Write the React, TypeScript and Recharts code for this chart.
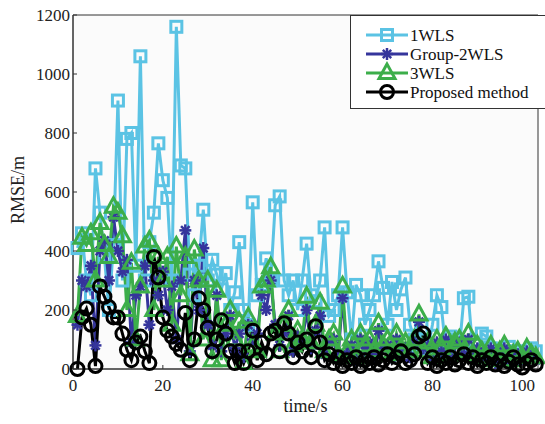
import React from 'react';
import { LineChart, Line, XAxis, YAxis, ReferenceArea, CartesianGrid } from 'recharts';

const wls1 = [
  410, 460, 300, 250, 680, 530, 380, 200, 420, 910,
  300, 780, 800, 350, 1060, 300, 430, 530, 765, 640,
  580, 300, 1160, 690, 680, 320, 250, 350, 540, 300,
  370, 320, 270, 325, 200, 260, 430, 200, 150, 565,
  250, 285, 375, 300, 555, 585, 300, 250, 300, 200,
  300, 425, 250, 230, 300, 480, 180, 200, 250, 480,
  260, 100, 285, 250, 150, 200, 250, 365, 275, 150,
  295, 200, 270, 310, 150, 100, 80, 100, 70, 150,
  250, 210, 60, 110, 100, 70, 240, 245, 60, 50,
  120, 110, 70, 55, 40, 60, 75, 50, 60, 40,
  55, 70, 60,
];

const group2wls = [
  150, 300, 280, 350, 80, 400, 435, 300, 515, 400,
  330, 370, 90, 250, 280, 350, 150, 300, 250, 330,
  200, 280, 100, 300, 470, 60, 300, 200, 410, 150,
  80, 250, 60, 120, 180, 70, 120, 40, 150, 100,
  120, 250, 200, 300, 150, 80, 120, 180, 60, 110,
  90, 200, 70, 130, 180, 50, 90, 100, 40, 240,
  50, 80, 30, 100, 60, 90, 40, 130, 70, 80,
  40, 100, 60, 70, 40, 90, 160, 70, 80, 30,
  90, 60, 100, 40, 80, 90, 50, 100, 40, 70,
  50, 30, 70, 20, 50, 70, 20, 40, 50, 30,
  60, 40, 30,
];

const wls3 = [
  180, 445, 420, 460, 300, 495, 420, 380, 550, 530,
  450, 200, 360, 100, 280, 415, 435, 200, 380, 300,
  380, 150, 415, 250, 380, 50, 405, 300, 100, 300,
  30, 265, 30, 150, 200, 100, 160, 20, 175, 80,
  60, 280, 300, 345, 120, 60, 150, 200, 80, 130,
  100, 245, 90, 150, 225, 60, 100, 120, 50, 280,
  60, 100, 40, 120, 80, 100, 60, 155, 80, 100,
  50, 120, 70, 90, 60, 100, 185, 60, 90, 40,
  100, 70, 110, 50, 90, 100, 60, 120, 50, 80,
  60, 40, 80, 30, 60, 80, 30, 50, 60, 40,
  70, 50, 40,
];

const proposed = [
  0, 175, 205, 150, 10, 280, 245, 210, 175, 175,
  120, 65, 30, 90, 110, 60, 20, 380, 310, 175,
  130, 110, 85, 65, 190, 30, 100, 240, 200, 140,
  60, 100, 165, 120, 60, 20, 60, 20, 60, 130,
  30, 90, 50, 120, 130, 60, 155, 120, 40, 90,
  60, 100, 40, 145, 90, 30, 50, 20, 40, 10,
  30, 20, 40, 10, 30, 20, 40, 15, 30, 50,
  20, 40, 60, 20, 30, 50, 110, 120, 20, 40,
  10, 30, 20, 40, 15, 30, 50, 20, 40, 10,
  30, 20, 40, 15, 30, 10, 25, 40, 15, 5,
  20, 30, 15,
];

const xTicks = [0, 20, 40, 60, 80, 100];
const yTicks = [0, 200, 400, 600, 800, 1000, 1200];

const seriesNames = ['1WLS', 'Group-2WLS', '3WLS', 'Proposed method'];

const C1 = '#5bc3e4';
const C2 = '#35359c';
const C3 = '#3cae4a';
const C4 = '#000000';

const data = wls1.map((v, i) => ({
  t: i + 1,
  wls1: v,
  g2: group2wls[i],
  wls3: wls3[i],
  prop: proposed[i],
}));

const FONT = '"Liberation Serif", "DejaVu Serif", serif';

const SquareDot = (p: any) =>
  p.cx == null ? <g key={`s${p.index}`} /> : (
    <rect key={`s${p.index}`} x={p.cx - 5.5} y={p.cy - 5.5} width={11} height={11} fill="none" stroke={C1} strokeWidth={3} />
  );

const StarDot = (p: any) => {
  if (p.cx == null) return <g key={`a${p.index}`} />;
  const r = 6;
  const d = r * 0.707;
  return (
    <g key={`a${p.index}`} stroke={C2} strokeWidth={2.5}>
      <line x1={p.cx - r} y1={p.cy} x2={p.cx + r} y2={p.cy} />
      <line x1={p.cx} y1={p.cy - r} x2={p.cx} y2={p.cy + r} />
      <line x1={p.cx - d} y1={p.cy - d} x2={p.cx + d} y2={p.cy + d} />
      <line x1={p.cx - d} y1={p.cy + d} x2={p.cx + d} y2={p.cy - d} />
    </g>
  );
};

const TriDot = (p: any) =>
  p.cx == null ? <g key={`t${p.index}`} /> : (
    <polygon
      key={`t${p.index}`}
      points={`${p.cx},${p.cy - 9} ${p.cx - 8},${p.cy + 5.5} ${p.cx + 8},${p.cy + 5.5}`}
      fill="none"
      stroke={C3}
      strokeWidth={3}
    />
  );

const CircDot = (p: any) =>
  p.cx == null ? <g key={`c${p.index}`} /> : (
    <circle key={`c${p.index}`} cx={p.cx} cy={p.cy} r={6.5} fill="none" stroke={C4} strokeWidth={3} />
  );

const XTick = (p: any) => (
  <g>
    <line x1={p.x} y1={p.y} x2={p.x} y2={p.y - 4} stroke="#333" />
    <text x={p.x} y={p.y + 22} textAnchor="middle" fontSize={17} fontFamily={FONT} fill="#222">
      {p.payload.value}
    </text>
  </g>
);

const YTick = (p: any) => (
  <g>
    <line x1={p.x} y1={p.y} x2={p.x + 4} y2={p.y} stroke="#333" />
    <text x={p.x - 3} y={p.y + 6} textAnchor="end" fontSize={17} fontFamily={FONT} fill="#222">
      {p.payload.value}
    </text>
  </g>
);

const LegendBox = () => {
  const rows = [
    { name: seriesNames[0], color: C1, kind: 'sq' },
    { name: seriesNames[1], color: C2, kind: 'st' },
    { name: seriesNames[2], color: C3, kind: 'tr' },
    { name: seriesNames[3], color: C4, kind: 'ci' },
  ];
  return (
    <svg width={200} height={94} style={{ display: 'block' }}>
      <rect x={0.5} y={0.5} width={199} height={93} fill="#ffffff" stroke="#333" strokeWidth={1} />
      {rows.map((r, i) => {
        const cy = 20 + i * 19;
        const cx = 37;
        let marker: any = null;
        if (r.kind === 'sq') marker = <rect x={cx - 5.5} y={cy - 5.5} width={11} height={11} fill="none" stroke={r.color} strokeWidth={3} />;
        if (r.kind === 'st') marker = (
          <g stroke={r.color} strokeWidth={2.5}>
            <line x1={cx - 6} y1={cy} x2={cx + 6} y2={cy} />
            <line x1={cx} y1={cy - 6} x2={cx} y2={cy + 6} />
            <line x1={cx - 4.2} y1={cy - 4.2} x2={cx + 4.2} y2={cy + 4.2} />
            <line x1={cx - 4.2} y1={cy + 4.2} x2={cx + 4.2} y2={cy - 4.2} />
          </g>
        );
        if (r.kind === 'tr') marker = <polygon points={`${cx},${cy - 9} ${cx - 8},${cy + 5.5} ${cx + 8},${cy + 5.5}`} fill="none" stroke={r.color} strokeWidth={3} />;
        if (r.kind === 'ci') marker = <circle cx={cx} cy={cy} r={6.5} fill="none" stroke={r.color} strokeWidth={3} />;
        return (
          <g key={r.name}>
            <line x1={16} y1={cy} x2={58} y2={cy} stroke={r.color} strokeWidth={3} />
            {marker}
            <text x={60} y={cy + 6} fontSize={17} fontFamily={FONT} fill="#111">{r.name}</text>
          </g>
        );
      })}
    </svg>
  );
};

export default function App() {
  return (
    <div style={{ position: 'absolute', left: 0, top: 0, width: 545, height: 424, background: '#fff', overflow: 'hidden' }}>
      <LineChart width={545} height={424} data={data} margin={{ top: 15, right: 7, bottom: 0, left: 0 }}>
        <CartesianGrid horizontal={false} vertical={false} fill="#fbfbfb" />
        <XAxis
          dataKey="t"
          type="number"
          domain={[0, 103.5]}
          ticks={xTicks}
          height={55}
          tickSize={0}
          tickMargin={0}
          tickLine={false}
          tick={XTick}
          stroke="#333"
          label={{ value: 'time/s', position: 'insideBottom', offset: 12, fontSize: 18, fontFamily: FONT, fill: '#222' }}
        />
        <YAxis
          type="number"
          domain={[0, 1200]}
          ticks={yTicks}
          width={73}
          tickSize={0}
          tickMargin={0}
          tickLine={false}
          tick={YTick}
          stroke="#333"
          label={{
            content: () => (
              <text x={24} y={190} transform="rotate(-90 24 190)" textAnchor="middle" fontSize={18} fontFamily={FONT} fill="#222">
                RMSE/m
              </text>
            ),
          }}
        />
        <ReferenceArea x1={0} x2={103.5} y1={0} y2={1200} fill="none" stroke="#333" strokeWidth={1} />
        <Line dataKey="wls1" name={seriesNames[0]} stroke={C1} strokeWidth={3} dot={SquareDot} isAnimationActive={false} />
        <Line dataKey="g2" name={seriesNames[1]} stroke={C2} strokeWidth={3} dot={StarDot} isAnimationActive={false} />
        <Line dataKey="wls3" name={seriesNames[2]} stroke={C3} strokeWidth={3} dot={TriDot} isAnimationActive={false} />
        <Line dataKey="prop" name={seriesNames[3]} stroke={C4} strokeWidth={3} dot={CircDot} isAnimationActive={false} />
      </LineChart>
      <div style={{ position: 'absolute', top: 15, left: 350, width: 200 }}>
        <LegendBox />
      </div>
    </div>
  );
}
